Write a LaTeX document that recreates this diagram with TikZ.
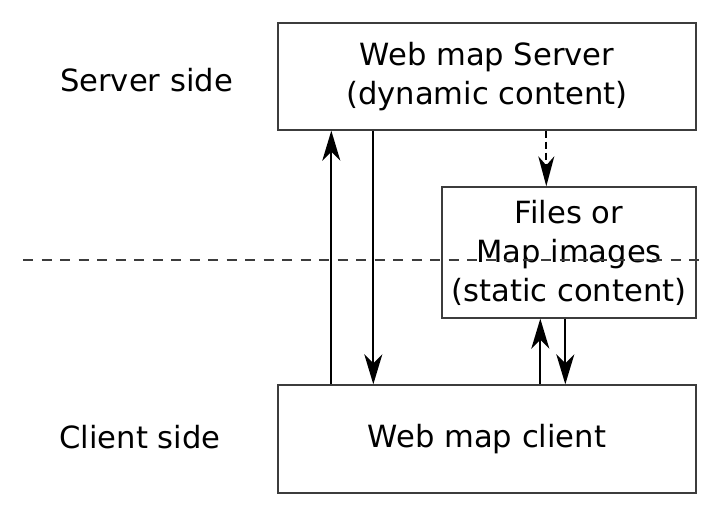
\documentclass[tikz,border=0pt]{standalone}
\usepackage{fontspec}
\setmainfont{DejaVu Sans}
\usetikzlibrary{arrows.meta}
\definecolor{edge}{RGB}{60, 60, 60}

\tikzset{
  box/.style={rectangle, draw=edge, line width=1.4pt, inner sep=0pt, align=center, font=\fontsize{30.6}{39}\selectfont},
  side/.style={inner sep=0pt, font=\fontsize{30.6}{39}\selectfont},
  arr/.style={line width=2pt, color=black, -{Stealth[length=30pt, width=18pt, inset=9pt]}},
  darr/.style={line width=1.7pt, color=black, dash pattern=on 7pt off 4pt, -{Stealth[length=30pt, width=16pt, inset=9pt, sep=0pt]}},
  sep/.style={line width=1.4pt, color=edge, dash pattern=on 10pt off 8.5pt}
}

\begin{document}
\begin{tikzpicture}
\useasboundingbox (0pt, 0pt) rectangle (727pt, -516pt);
\node (server) [box, minimum width=418pt, minimum height=107pt] at (487.0pt, -76.5pt) {Web map Server\\(dynamic content)};
\node (files) [box, minimum width=254pt, minimum height=131pt] at (569.0pt, -252.5pt) {Files or\\Map images\\(static content)};
\node (client) [box, minimum width=418pt, minimum height=108pt] at (487.0pt, -439.0pt) {Web map client};
\node (srvside) [side] at (146.5pt, -80.0pt) {Server side};
\node (cltside) [side] at (140.0pt, -437.0pt) {Client side};
\coordinate (left) at (23.0pt, -260.0pt);
\coordinate (right) at (703.0pt, -260.0pt);
\draw [sep] (left) -- (right);
\draw [arr] (client.north west) ++(54pt, 0pt) coordinate (up1) -- (up1 |- server.south);
\draw [arr] (server.south west) ++(96pt, 0pt) coordinate (dn1) -- (dn1 |- client.north);
\draw [darr] (server.south west) ++(269pt, 0pt) coordinate (dn2) -- (dn2 |- files.north);
\draw [arr] (files.south west) ++(99pt, 0pt) coordinate (up2) (up2 |- client.north) -- (up2);
\draw [arr] (files.south west) ++(124pt, 0pt) coordinate (dn3) -- (dn3 |- client.north);
\end{tikzpicture}
\end{document}
